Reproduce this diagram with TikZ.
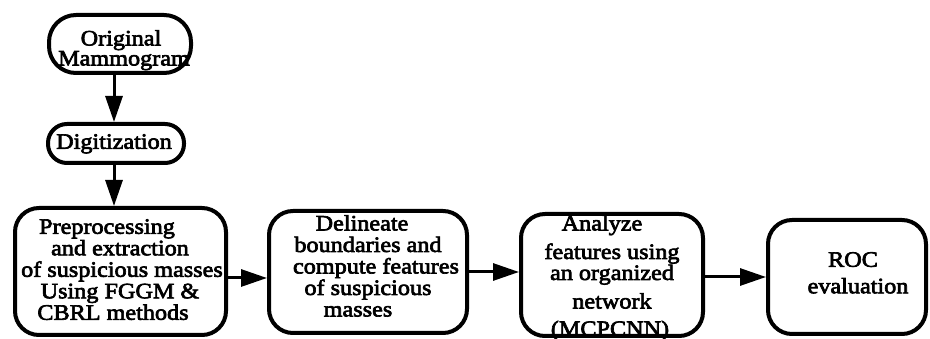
\documentclass[tikz,border=0pt]{standalone}
\usepackage{fontspec}
\setmainfont{Liberation Serif}[FakeStretch=1.1,FakeBold=3]
\usetikzlibrary{arrows.meta}
\begin{document}
\begin{tikzpicture}[x=1pt,y=-1pt,
  box/.style={draw, line width=4pt, rounded corners=24pt, inner sep=0pt},
  txt/.style={inner sep=0pt, align=center, anchor=north, font=\fontsize{22}{21.5}\selectfont},
  arr/.style={line width=3pt, -{Triangle[length=26pt,width=17pt]}}]
\useasboundingbox (0,0) rectangle (930,339);
% boxes
\node[box, rounded corners=27pt, minimum width=142pt, minimum height=58pt] (orig) at (120,44) {};
\node[box, rounded corners=19pt, minimum width=136pt, minimum height=39pt] (dig) at (116,143.5) {};
\node[box, minimum width=211pt, minimum height=127pt] (b1) at (120.5,271.5) {};
\node[box, minimum width=198pt, minimum height=122pt] (b2) at (368,272) {};
\node[box, minimum width=182pt, minimum height=122pt] (b3) at (612,275) {};
\node[box, minimum width=158pt, minimum height=114pt] (b4) at (847,277) {};
% texts
\node[txt, font=\fontsize{22}{20}\selectfont] (torig) at (121,30) {Original\\\hspace*{6pt}Mammogram};
\node[txt] (tdig) at (114,134) {Digitization};
\node[txt] (tb1) at (120,219) {Preprocessing\hspace*{26pt}\\and extraction\hspace*{46pt}\\\hspace*{4pt}of suspicious masses\\Using FGGM \&\hspace*{4pt}\\CBRL methods\hspace*{14pt}};
\node[txt] (tb2) at (368,215) {Delineate\hspace*{12pt}\\boundaries and\hspace*{12pt}\\\hspace*{16pt}compute features\\of suspicious\hspace*{4pt}\\masses\hspace*{20pt}};
\node[txt] (tb3) at (612,215) {Analyze\hspace*{20pt}\\[7pt]features using\hspace*{14pt}\\[-0.5pt]an organized\hspace*{24pt}\\[7pt]network\hspace*{8pt}\\[6pt](MCPCNN)\hspace*{4pt}};
\node[txt] (tb4) at (850,252) {\hspace*{6pt}ROC\\[5pt]\hspace*{16pt}evaluation};
% connectors
\coordinate (vx) at (114,0);
\coordinate (h1) at (0,278);
\coordinate (h2) at (0,272);
\coordinate (h3) at (0,277);
\draw[arr] (orig.south -| vx) -- (dig.north -| vx);
\draw[arr] (dig.south -| vx) -- (b1.north -| vx);
\draw[arr] (b1.east |- h1) -- (b2.west |- h1);
\draw[arr] (b2.east |- h2) -- (b3.west |- h2);
\draw[arr] (b3.east |- h3) -- (b4.west |- h3);
\end{tikzpicture}
\end{document}
